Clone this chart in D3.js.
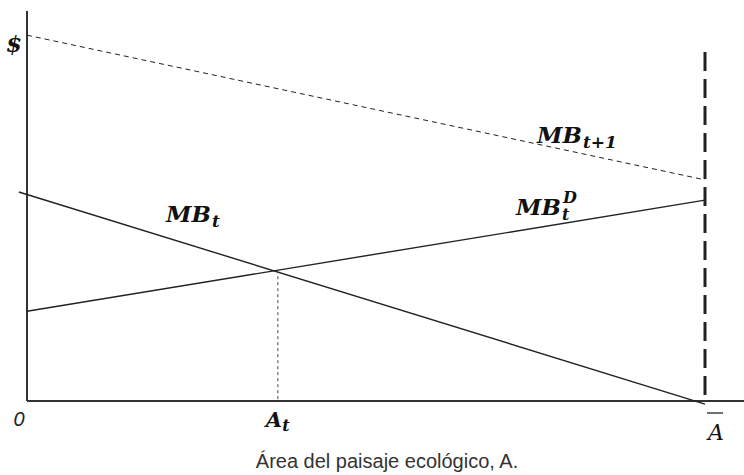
<!DOCTYPE html>
<html><head><meta charset="utf-8">
<script src="https://cdn.jsdelivr.net/npm/d3@7"></script>
<style>body{margin:0;background:#fff}svg{display:block}</style>
</head><body>
<svg id="c" width="744" height="475"></svg>
<script>
// Data (abstract units: x in fraction of Ā, y in $ units)
const xDomain = [0, 1];
const yDomain = [0, 100];
const mbNext = [{x: 0, y: 93.8}, {x: 1, y: 56.7}];      // MB_{t+1}, dashed
const mbD = [{x: 0, y: 23.0}, {x: 1, y: 51.5}];         // MB_t^D
const mbT = [{x: -0.012, y: 53.6}, {x: 1, y: -0.8}];    // MB_t
const aT = 0.37;                                       // A_t
const aBar = 1;                                        // Ā
const aBarTop = 89.5;                                  // top of Ā dashed line
const xLabels = [{x: 0, t: "0"}, {x: aT, t: "A_t"}, {x: aBar, t: "Ā"}];

const svg = d3.select("#c");
const x = d3.scaleLinear().domain(xDomain).range([27, 705]);
const y = d3.scaleLinear().domain(yDomain).range([401, 11]);
const line = d3.line().x(d => x(d.x)).y(d => y(d.y));

// axes
svg.append("line").attr("x1", x(0)).attr("x2", 744).attr("y1", y(0)).attr("y2", y(0))
  .attr("stroke", "#333").attr("stroke-width", 2);
svg.append("line").attr("x1", x(0)).attr("x2", x(0)).attr("y1", 11).attr("y2", y(0))
  .attr("stroke", "#333").attr("stroke-width", 2);

// lines
svg.append("path").attr("d", line(mbNext)).attr("fill", "none").attr("stroke", "#222")
  .attr("stroke-width", 1).attr("stroke-dasharray", "5,4");
svg.append("path").attr("d", line(mbD)).attr("fill", "none").attr("stroke", "#222").attr("stroke-width", 1.4);
svg.append("path").attr("d", line(mbT)).attr("fill", "none").attr("stroke", "#222").attr("stroke-width", 1.4);

// intersection dotted vertical
const yInt = mbD[0].y + (mbD[1].y - mbD[0].y) * aT;
svg.append("line").attr("x1", x(aT)).attr("x2", x(aT)).attr("y1", y(yInt)).attr("y2", y(0))
  .attr("stroke", "#444").attr("stroke-width", 1).attr("stroke-dasharray", "3,3");

// Ā dashed vertical
svg.append("line").attr("x1", x(aBar)).attr("x2", x(aBar)).attr("y1", y(aBarTop)).attr("y2", y(0))
  .attr("stroke", "#222").attr("stroke-width", 3).attr("stroke-dasharray", "19,8");

// labels
const serif = "'DejaVu Serif', 'Liberation Serif', serif";
function styled(sel, size, bold) {
  return sel.attr("font-family", serif).attr("font-style", "italic")
    .attr("font-weight", bold ? "bold" : "normal")
    .attr("font-size", size).attr("fill", "#111");
}
function mb(xp, yp, sub, sup) {
  const t = styled(svg.append("text").attr("x", xp).attr("y", yp), 23, true);
  t.append("tspan").text("MB");
  const w = t.node().getComputedTextLength();
  if (sup) {
    const tx = styled(svg.append("text"), 16, true);
    tx.append("tspan").attr("x", xp + w + 1).attr("y", yp + 5).text(sub);
    tx.append("tspan").attr("x", xp + w + 2).attr("y", yp - 12).text(sup);
  } else {
    t.append("tspan").attr("font-size", 17).attr("dy", 5).attr("dx", 1).text(sub);
  }
}
mb(166, 222, "t");
mb(537, 143, "t+1");
mb(516, 215, "t", "D");

styled(svg.append("text").attr("x", 6).attr("y", 52), 23, true).text("$");

xLabels.forEach(d => {
  if (d.t === "0") {
    svg.append("text").attr("x", x(d.x) - 8).attr("y", 426).attr("text-anchor", "middle")
      .attr("font-family", "'Liberation Sans', sans-serif").attr("font-style", "italic")
      .attr("font-size", 20).attr("fill", "#222").text("0");
  } else if (d.t === "A_t") {
    const t = styled(svg.append("text").attr("x", x(d.x) - 12).attr("y", 427), 21, true);
    t.append("tspan").text("A");
    t.append("tspan").attr("font-size", 16).attr("dy", 4).text("t");
  } else {
    styled(svg.append("text").attr("x", x(d.x) + 11).attr("y", 440).attr("text-anchor", "middle"), 22, false).text("A");
    svg.append("line").attr("x1", x(d.x) + 2).attr("x2", x(d.x) + 18).attr("y1", 413).attr("y2", 413)
      .attr("stroke", "#111").attr("stroke-width", 1.2);
  }
});

svg.append("text").attr("x", 387).attr("y", 468).attr("text-anchor", "middle")
  .attr("font-family", "'Liberation Sans', Arial, sans-serif").attr("font-size", 20)
  .attr("fill", "#333").text("Área del paisaje ecológico, A.");
</script>
</body></html>
